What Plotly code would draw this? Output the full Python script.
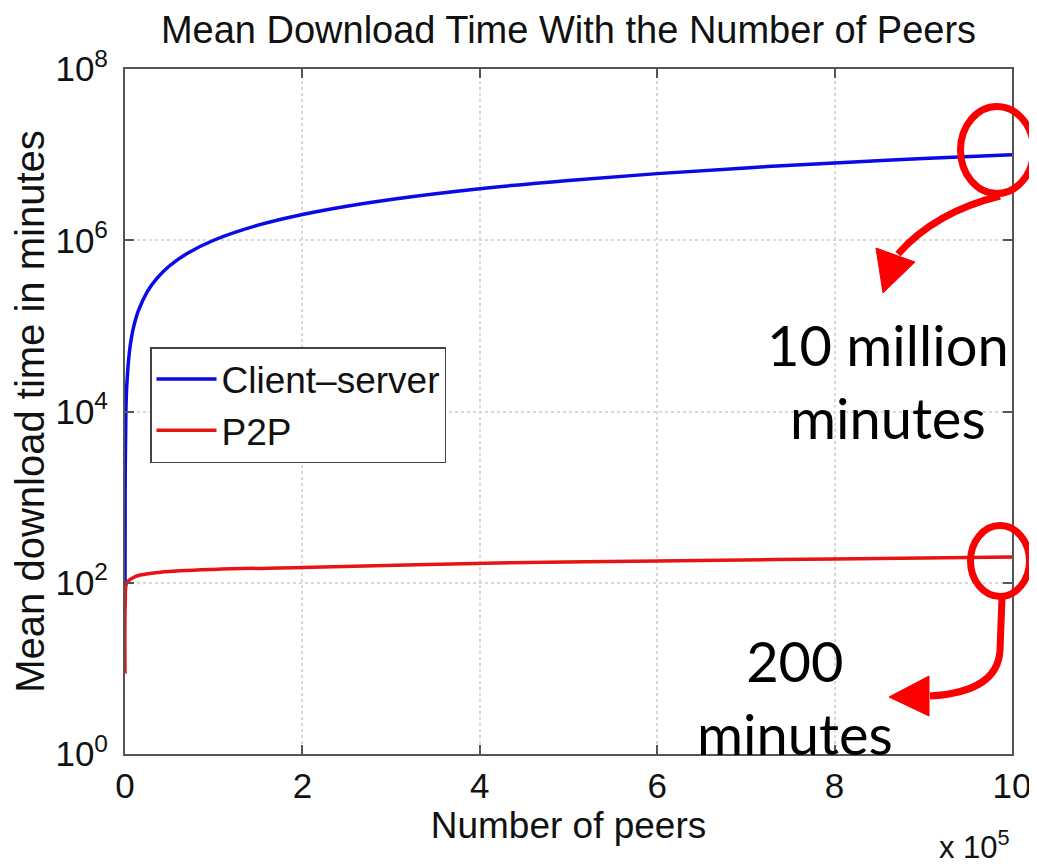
import plotly.graph_objects as go

# ---- data ----
peers_cs = [10, 100, 1000, 2000, 5000, 7500, 10000, 15000, 25000, 35000, 50000, 70000,
            100000, 150000, 200000, 250000, 300000, 400000, 500000, 600000, 700000,
            800000, 900000, 1000000]
time_cs = [100, 1000, 1.0e4, 2.0e4, 5.0e4, 7.5e4, 1.0e5, 1.5e5, 2.5e5, 3.5e5, 5.0e5, 7.0e5,
           1.0e6, 1.5e6, 2.0e6, 2.5e6, 3.0e6, 4.0e6, 5.0e6, 6.0e6, 7.0e6,
           8.0e6, 9.0e6, 1.0e7]

peers_p2p = [1, 300, 2000, 8000, 17000, 40000, 100000, 200000, 420000, 600000, 800000, 1000000]
time_p2p = [8.7, 60, 100, 113, 123, 133, 143, 151, 170, 180, 190, 200]

x_tickvals = [0, 200000, 400000, 600000, 800000, 1000000]
x_ticktext = ["0", "2", "4", "6", "8", "10"]
y_tickvals = [1, 100, 1e4, 1e6, 1e8]
y_ticktext = ["10<sup>0</sup>", "10<sup>2</sup>", "10<sup>4</sup>", "10<sup>6</sup>", "10<sup>8</sup>"]

OFF = 8  # page body margin
W, H = 1037 - OFF, 864 - OFF
L, T = 125 - OFF, 69 - OFF
R = W - (1012 - OFF)
B = H - (754 - OFF)
PW, PH = W - L - R, H - T - B


def px(x):
    return (x - OFF - L) / PW


def py(y):
    return (H - B - (y - OFF)) / PH


AX_FONT = "Liberation Sans, Arial, sans-serif"
RED = "rgb(250,0,0)"

fig = go.Figure()
fig.add_trace(go.Scatter(x=peers_cs, y=time_cs, mode="lines", name="Client\u2013server",
                         line=dict(color="rgb(10,10,230)", width=3.5, shape="spline")))
fig.add_trace(go.Scatter(x=peers_p2p, y=time_p2p, mode="lines", name="P2P",
                         line=dict(color="rgb(230,20,20)", width=3.5, shape="spline")))

axis_common = dict(showline=True, linecolor="#555555", linewidth=2, mirror="ticks",
                   ticks="inside", ticklen=9, tickcolor="#555555", tickwidth=1.5,
                   showgrid=True, gridcolor="#d8d8d8", griddash="dot", gridwidth=1.5,
                   zeroline=False, automargin=False,
                   tickfont=dict(family=AX_FONT, size=35, color="#111"))

fig.update_xaxes(range=[0, 1000000], tickvals=x_tickvals, ticktext=x_ticktext,
                 title=dict(text="Number of peers", font=dict(family=AX_FONT, size=37, color="#111"),
                            standoff=4),
                 ticklabelstandoff=0, **axis_common)
fig.update_yaxes(type="log", range=[0, 8], tickvals=y_tickvals, ticktext=y_ticktext,
                 title=dict(text="Mean download time in minutes",
                            font=dict(family=AX_FONT, size=40, color="#111"), standoff=8),
                 ticklabelstandoff=8, **axis_common)

fig.update_layout(
    width=W, height=H,
    margin=dict(l=L, r=R, t=T, b=B, autoexpand=False),
    paper_bgcolor="white", plot_bgcolor="white",
    title=dict(text="Mean Download Time With the Number of Peers",
               font=dict(family=AX_FONT, size=38, color="#111"),
               x=0.5, xref="paper", xanchor="center", y=1 - (30 - OFF) / H, yanchor="middle"),
    legend=dict(x=px(150), y=py(347), xanchor="left", yanchor="top",
                bgcolor="white", bordercolor="#444", borderwidth=1.5,
                font=dict(family=AX_FONT, size=37, color="#111"), itemwidth=60,
                tracegroupgap=0),
    showlegend=True,
)

shapes = []
# red circles
shapes.append(dict(type="circle", xref="paper", yref="paper",
                   x0=px(960.5), x1=px(1033.5), y0=py(193.5), y1=py(106.5),
                   line=dict(color=RED, width=7)))
shapes.append(dict(type="circle", xref="paper", yref="paper",
                   x0=px(970.5), x1=px(1029.5), y0=py(596.5), y1=py(525.5),
                   line=dict(color=RED, width=7)))

# arrow 1 curve
shapes.append(dict(type="path", xref="paper", yref="paper",
                   path=f"M {px(1000)},{py(196)} Q {px(935)},{py(212)} {px(898)},{py(254)}",
                   line=dict(color=RED, width=7)))
shapes.append(dict(type="path", xref="paper", yref="paper",
                   path=f"M {px(876)},{py(248)} L {px(915)},{py(262)} L {px(883)},{py(293)} Z",
                   fillcolor=RED, line=dict(color=RED, width=1)))
# arrow 2 curve
shapes.append(dict(type="path", xref="paper", yref="paper",
                   path=(f"M {px(1002)},{py(598)} L {px(1000)},{py(650)} "
                         f"Q {px(998)},{py(692)} {px(930)},{py(696)}"),
                   line=dict(color=RED, width=7)))
shapes.append(dict(type="path", xref="paper", yref="paper",
                   path=f"M {px(929)},{py(676)} L {px(929)},{py(716)} L {px(889)},{py(697)} Z",
                   fillcolor=RED, line=dict(color=RED, width=1)))
fig.update_layout(shapes=shapes)

ANN_FONT = "Lato, Open Sans, sans-serif"
fig.add_annotation(xref="paper", yref="paper", x=px(888), y=py(381), xanchor="center",
                   yanchor="middle", showarrow=False, text="10 million<br>minutes",
                   font=dict(family=ANN_FONT, size=56, color="black"))
fig.add_annotation(xref="paper", yref="paper", x=px(795), y=py(697), xanchor="center",
                   yanchor="middle", showarrow=False, text="200<br>minutes",
                   font=dict(family=ANN_FONT, size=56, color="black"))
fig.add_annotation(xref="paper", yref="paper", x=px(1012), y=py(845), xanchor="right",
                   yanchor="middle", showarrow=False, text="x 10<sup>5</sup>",
                   font=dict(family=AX_FONT, size=31, color="#111"))

fig.write_html("out.html")
